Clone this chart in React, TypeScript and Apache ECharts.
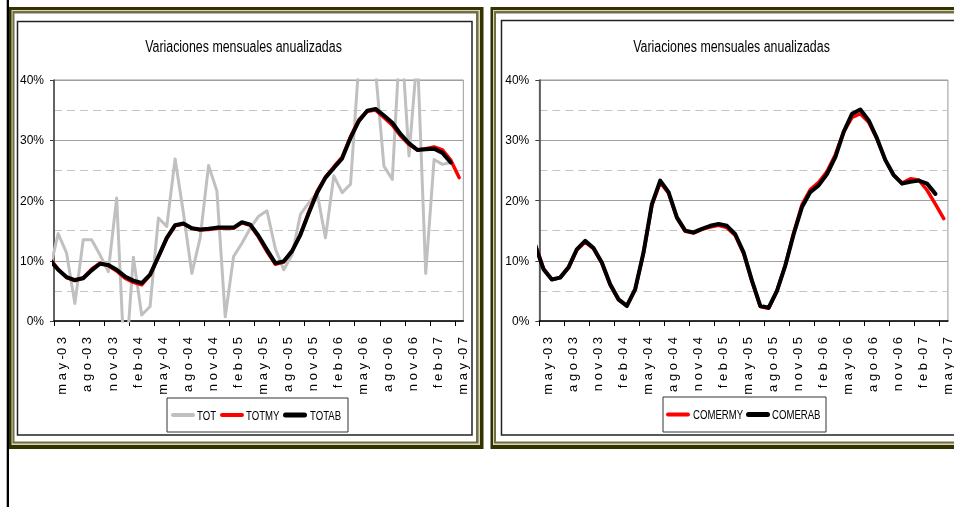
import React, { useEffect, useRef } from 'react';
import * as echarts from 'echarts';

// Months from abr-03 (only partly visible, clipped at the axis) to may-07
const months = ['abr-03','may-03','jun-03','jul-03','ago-03','sep-03','oct-03','nov-03','dic-03',
  'ene-04','feb-04','mar-04','abr-04','may-04','jun-04','jul-04','ago-04','sep-04','oct-04','nov-04','dic-04',
  'ene-05','feb-05','mar-05','abr-05','may-05','jun-05','jul-05','ago-05','sep-05','oct-05','nov-05','dic-05',
  'ene-06','feb-06','mar-06','abr-06','may-06','jun-06','jul-06','ago-06','sep-06','oct-06','nov-06','dic-06',
  'ene-07','feb-07','mar-07','abr-07','may-07'];

// Left chart (abr-03 ...)
const TOT = [8.5, 14.5, 11.3, 2.9, 13.5, 13.5, 11.0, 8.2, 20.4, -9, 10.6, 1.0, 2.4, 17.1, 15.7, 26.9, 17.9, 7.9,
  13.8, 25.8, 21.6, 0.7, 10.7, 12.9, 15.4, 17.4, 18.3, 12.0, 8.5, 11.0, 17.7, 19.6, 21.3, 13.8, 24.1, 21.3, 22.7,
  43, 46, 41.5, 25.7, 23.5, 49, 27.4, 44.5, 7.9, 26.8, 26.0, 26.3];
const TOTMY = [10.3, 8.6, 7.2, 6.7, 7.2, 8.6, 9.6, 9.2, 8.3, 7.1, 6.4, 6.0, 7.6, 10.6, 13.7, 15.8, 16.1, 15.4,
  15.1, 15.2, 15.4, 15.4, 15.4, 16.3, 15.9, 13.9, 11.5, 9.4, 9.8, 11.6, 14.4, 18.1, 21.5, 23.9, 25.6, 27.2, 30.6,
  33.4, 34.8, 35.0, 33.8, 32.5, 30.7, 29.3, 28.4, 28.6, 28.9, 28.4, 26.7, 23.8];
const TOTAB = [10.1, 8.5, 7.3, 6.8, 7.1, 8.4, 9.5, 9.3, 8.5, 7.4, 6.7, 6.3, 7.7, 10.7, 13.8, 15.9, 16.2, 15.4,
  15.2, 15.3, 15.5, 15.5, 15.5, 16.4, 16.0, 14.1, 11.8, 9.6, 9.9, 11.6, 14.3, 17.9, 21.3, 23.8, 25.4, 27.0, 30.4,
  33.2, 34.9, 35.2, 34.1, 32.9, 31.0, 29.5, 28.4, 28.5, 28.6, 27.9, 26.3];

// Right chart (abr-03 ...)
const COMERMY = [12.8, 8.7, 6.9, 7.2, 8.8, 11.8, 13.1, 12.0, 9.6, 6.0, 3.5, 2.5, 5.2, 11.3, 19.2, 23.0, 21.2,
  17.1, 14.9, 14.6, 15.2, 15.6, 15.9, 15.5, 14.2, 11.2, 6.6, 2.4, 2.1, 5.0, 9.3, 14.6, 19.3, 21.8, 23.0, 24.8,
  27.6, 31.4, 33.8, 34.4, 33.0, 30.2, 26.7, 24.2, 22.9, 23.6, 23.4, 21.7, 19.4, 17.0];
const COMERAB = [12.6, 8.6, 6.9, 7.2, 8.9, 11.9, 13.3, 12.1, 9.7, 6.1, 3.6, 2.5, 5.3, 11.4, 19.4, 23.3, 21.4,
  17.2, 15.0, 14.7, 15.3, 15.8, 16.1, 15.8, 14.4, 11.4, 6.7, 2.5, 2.2, 5.0, 9.2, 14.4, 18.9, 21.4, 22.5, 24.4,
  27.2, 31.4, 34.4, 35.1, 33.3, 30.3, 26.7, 24.2, 22.8, 23.1, 23.3, 22.8, 21.1];

const yTicks = [0, 10, 20, 30, 40];
const TITLE = 'Variaciones mensuales anualizadas';
const leftLegend = ['TOT', 'TOTMY', 'TOTAB'];
const rightLegend = ['COMERMY', 'COMERAB'];

const REG = "'Liberation Sans', Arial, sans-serif";

const labelKs = months.map((_, k) => k).filter((k) => k % 3 === 1);
const labelPos = labelKs.map((k) => k - 0.5 + 0.45);
const tickPos = labelKs.map((k) => k - 1);

const toPairs = (arr: number[]) => arr.map((v, k) => [k - 0.5, v]);

function spaced(m: string) {
  const [mon, yr] = m.split('-');
  return mon.split('').join(' ') + ' -' + yr.split('').join(' ');
}

function xAxis(gridIndex: number) {
  return {
    gridIndex,
    type: 'value',
    min: 0,
    max: months.length - 1,
    axisLine: { show: true, onZero: false, lineStyle: { color: '#000', width: 1.5 } },
    axisTick: { show: true, customValues: tickPos, length: 5, lineStyle: { color: '#000', width: 1 } },
    splitLine: { show: false },
    axisLabel: {
      customValues: labelPos,
      rotate: 90,
      margin: 16,
      fontSize: 13,
      fontFamily: REG,
      color: '#000',
      showMaxLabel: true,
      formatter: (v: number) => spaced(months[Math.round(v)] || ''),
    },
  };
}

function yAxis(gridIndex: number) {
  return {
    gridIndex,
    type: 'value',
    min: yTicks[0],
    max: yTicks[yTicks.length - 1],
    interval: 10,
    axisLine: { show: true, lineStyle: { color: '#404040', width: 1.5 } },
    axisTick: { show: true, length: 4, lineStyle: { color: '#404040' } },
    axisLabel: { formatter: '{value}%', fontSize: 12, fontFamily: REG, color: '#000', margin: 10 },
    splitLine: { show: true, lineStyle: { color: '#a0a0a0', width: 1 } },
    minorTick: { show: false, splitNumber: 2 },
    minorSplitLine: { show: true, lineStyle: { color: '#c4c4c4', width: 1, type: [8, 5] } },
  };
}

function line(name: string, data: number[], color: string, width: number, idx: number) {
  return {
    name,
    type: 'line',
    xAxisIndex: idx,
    yAxisIndex: idx,
    data: toPairs(data),
    symbol: 'none',
    showSymbol: false,
    clip: true,
    lineStyle: { color, width, join: 'round', cap: 'round' },
    itemStyle: { color },
  };
}

function frame(x: number, w: number) {
  return [
    { type: 'rect', z: -10, silent: true, shape: { x, y: 7, width: w, height: 442 }, style: { fill: '#333300' } },
    { type: 'rect', z: -10, silent: true, shape: { x: x + 2.5, y: 10, width: w - 6, height: 435 }, style: { fill: '#d8d8c4' } },
    { type: 'rect', z: -10, silent: true, shape: { x: x + 3.5, y: 11, width: w - 8.5, height: 432.5 }, style: { fill: '#707044' } },
    { type: 'rect', z: -10, silent: true, shape: { x: x + 5.5, y: 13.5, width: w - 13, height: 428 }, style: { fill: '#ffffff' } },
  ];
}

function titleText(cx: number) {
  return {
    type: 'text', z: 5, silent: true, x: cx, y: 46.5, scaleX: 0.775,
    style: { text: TITLE, font: `16px ${REG}`, fill: '#000', textAlign: 'center', textVerticalAlign: 'middle' },
  };
}

// legend: box + samples + labels (positions only; names from the arrays above)
function legendGraphic(box: number[], items: { name: string; color: string; sx: number; tx: number; h: number }[]) {
  const els: any[] = [
    { type: 'rect', z: 5, silent: true, shape: { x: box[0], y: box[1], width: box[2], height: box[3] },
      style: { fill: '#fff', stroke: '#333', lineWidth: 1 } },
  ];
  const cy = box[1] + box[3] / 2;
  items.forEach((it) => {
    els.push({ type: 'rect', z: 6, silent: true, shape: { x: it.sx, y: cy - it.h / 2, width: 24, height: it.h, r: it.h / 2 },
      style: { fill: it.color } });
    els.push({ type: 'text', z: 6, silent: true, x: it.tx, y: cy + 0.5, scaleX: 0.8,
      style: { text: it.name, font: `12px ${REG}`, fill: '#000', textAlign: 'left', textVerticalAlign: 'middle' } });
  });
  return els;
}

const option = {
  animation: false,
  grid: [
    { left: 54, top: 80, width: 409.3, height: 241, show: true, borderColor: '#999', borderWidth: 1, backgroundColor: '#fff' },
    { left: 539.3, top: 80, width: 413, height: 241, show: true, borderColor: '#999', borderWidth: 1, backgroundColor: '#fff' },
  ],
  xAxis: [xAxis(0), xAxis(1)],
  yAxis: [yAxis(0), yAxis(1)],
  series: [
    line(leftLegend[0], TOT, '#c0c0c0', 3, 0),
    line(leftLegend[1], TOTMY, '#ff0000', 3.5, 0),
    line(leftLegend[2], TOTAB, '#000000', 4, 0),
    line(rightLegend[0], COMERMY, '#ff0000', 3.5, 1),
    line(rightLegend[1], COMERAB, '#000000', 4, 1),
  ],
  graphic: [
    { type: 'rect', z: -10, silent: true, shape: { x: 6.7, y: 0, width: 2.3, height: 507 }, style: { fill: '#000' } },
    ...frame(9, 474.5),
    ...frame(490.5, 600),
    { type: 'rect', z: -9, silent: true, shape: { x: 17.5, y: 21.5, width: 454.5, height: 413.5 },
      style: { fill: 'none', stroke: '#222', lineWidth: 1.5 } },
    { type: 'rect', z: -9, silent: true, shape: { x: 501.5, y: 20.5, width: 600, height: 414.5 },
      style: { fill: 'none', stroke: '#222', lineWidth: 1.5 } },
    titleText(243.5),
    titleText(731.5),
    ...legendGraphic([167, 398, 181, 34], [
      { name: leftLegend[0], color: '#c0c0c0', sx: 171, tx: 197, h: 4 },
      { name: leftLegend[1], color: '#ff0000', sx: 220, tx: 246, h: 4 },
      { name: leftLegend[2], color: '#000000', sx: 283, tx: 310, h: 5 },
    ]),
    ...legendGraphic([663, 397, 163, 35], [
      { name: rightLegend[0], color: '#ff0000', sx: 666, tx: 693, h: 4 },
      { name: rightLegend[1], color: '#000000', sx: 746, tx: 772, h: 5 },
    ]),
  ],
};

export default function App() {
  const ref = useRef<HTMLDivElement>(null);
  useEffect(() => {
    const chart = echarts.init(ref.current!, null, { renderer: 'svg' });
    chart.setOption(option as any);
    return () => chart.dispose();
  }, []);
  return <div ref={ref} style={{ position: 'fixed', left: 0, top: 0, width: 954, height: 507 }} />;
}
